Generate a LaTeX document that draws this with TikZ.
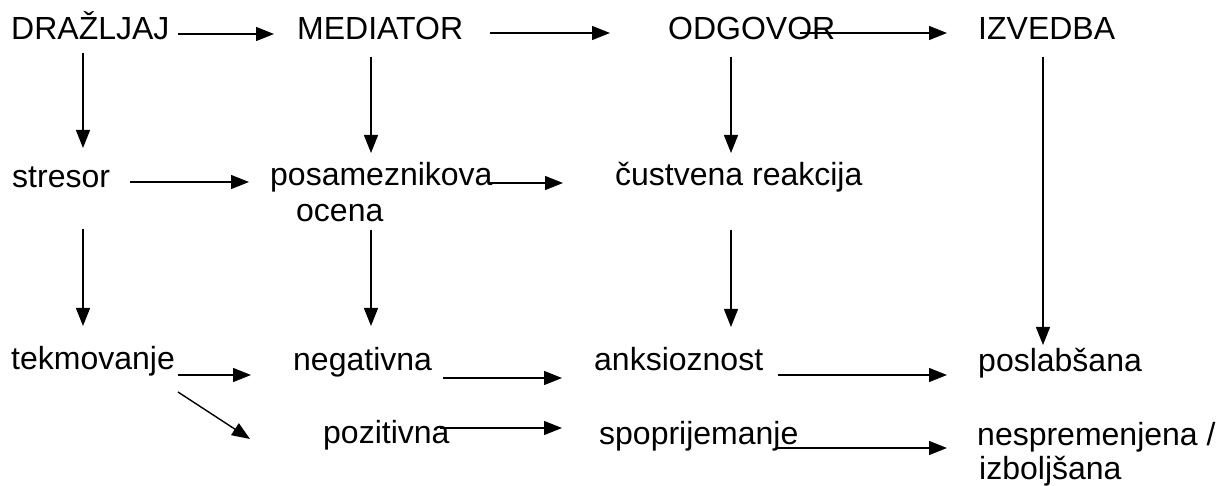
\documentclass[tikz,border=0pt]{standalone}
\usepackage{fontspec}
\setmainfont{Liberation Sans}
\usetikzlibrary{arrows.meta,calc}
\tikzset{
  lbl/.style={anchor=base west, inner sep=0pt, font=\fontsize{32bp}{37bp}\selectfont},
  arr/.style={line width=1.4bp, -{Triangle[length=18bp,width=14bp]}}
}
\begin{document}
\begin{tikzpicture}[x=1bp,y=-1bp]
\useasboundingbox[fill=white] (0,0) rectangle (1224,486);
% row 1
\node[lbl] (dra) at (11,40) {DRAŽLJAJ};
\node[lbl] (med) at (297,40) {MEDIATOR};
\node[lbl] (odg) at (668,40) {ODGOVOR};
\node[lbl] (izv) at (978,40) {IZVEDBA};
% row 2
\node[lbl] (str) at (12,188) {stresor};
\node[lbl] (pos) at (270,186) {posameznikova};
\node[lbl] (oce) at (296,222) {ocena};
\node[lbl] (cus) at (615,186) {čustvena reakcija};
% row 3
\node[lbl] (tek) at (11,370) {tekmovanje};
\node[lbl] (neg) at (293,371) {negativna};
\node[lbl] (anks) at (594,371) {anksioznost};
\node[lbl] (posl) at (978,372) {poslabšana};
% row 4
\node[lbl] (poz) at (323,443) {pozitivna};
\node[lbl] (spo) at (599,444) {spoprijemanje};
\node[lbl] (nesp) at (977,445) {nespremenjena /};
\node[lbl] (izb) at (979,479) {izboljšana};
% horizontal arrows
\draw[arr] ($(dra.base west)+(167,-6)$) -- ($(med.base west)+(-23,-6)$);
\draw[arr] ($(med.base west)+(193,-7)$) -- ($(odg.base west)+(-58,-7)$);
\draw[arr] ($(odg.base west)+(132,-7)$) -- ($(izv.base west)+(-31,-7)$);
\draw[arr] ($(str.base west)+(118,-6)$) -- ($(pos.base west)+(-21,-4)$);
\draw[arr] ($(pos.base west)+(220,-3)$) -- ($(cus.base west)+(-52,-3)$);
\draw[arr] ($(tek.base west)+(167,5)$) -- ($(neg.base west)+(-42,4)$);
\draw[arr] ($(tek.base west)+(167,22)$) -- ($(poz.base west)+(-73,-4)$);
\draw[arr] ($(neg.base west)+(150,7)$) -- ($(anks.base west)+(-32,7)$);
\draw[arr] ($(anks.base west)+(184,4)$) -- ($(posl.base west)+(-31,3)$);
\draw[arr] ($(poz.base west)+(117,-15)$) -- ($(spo.base west)+(-37,-16)$);
\draw[arr] ($(spo.base west)+(178,4)$) -- ($(nesp.base west)+(-30,3)$);
% vertical arrows
\draw[arr] ($(dra.base west)+(72,13)$) -- ($(str.base west)+(71,-40)$);
\draw[arr] ($(med.base west)+(74,17)$) -- ($(pos.base west)+(101,-33)$);
\draw[arr] ($(odg.base west)+(63,17)$) -- ($(cus.base west)+(116,-33)$);
\draw[arr] ($(izv.base west)+(65,17)$) -- ($(posl.base west)+(65,-27)$);
\draw[arr] ($(str.base west)+(71,41)$) -- ($(tek.base west)+(72,-44)$);
\draw[arr] ($(oce.base west)+(75,8)$) -- ($(neg.base west)+(78,-45)$);
\draw[arr] ($(cus.base west)+(116,44)$) -- ($(anks.base west)+(137,-44)$);
\end{tikzpicture}
\end{document}
